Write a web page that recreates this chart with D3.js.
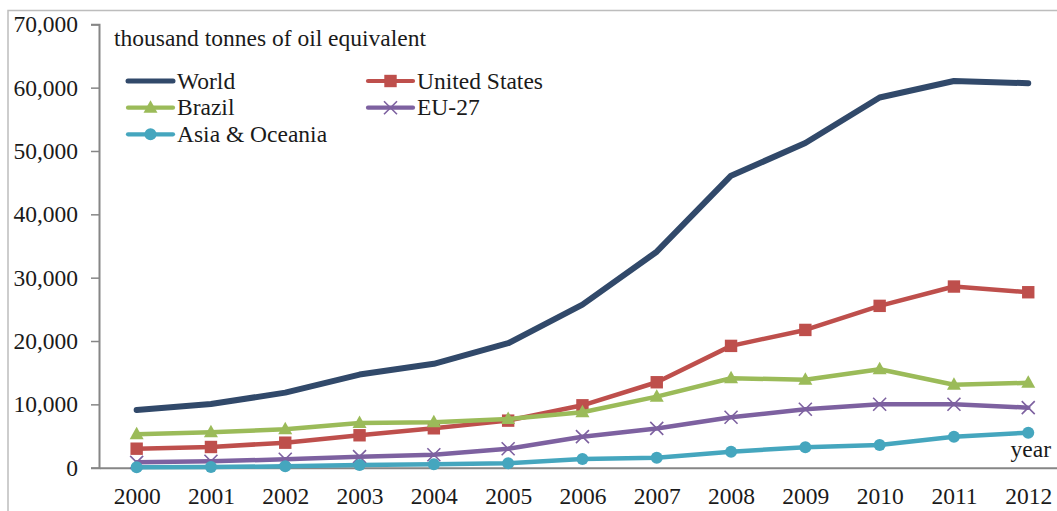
<!DOCTYPE html>
<html>
<head>
<meta charset="utf-8">
<script src="https://cdn.jsdelivr.net/npm/d3@7"></script>
<style>
  html, body { margin: 0; padding: 0; background: #fff; }
  svg { display: block; }
  svg text { font-family: "Liberation Serif", "Times New Roman", serif !important; fill: #1a1a1a; }
</style>
</head>
<body>
<svg id="chart" width="1057" height="511"></svg>
<script>
// Years on the category axis
const years = ["2000","2001","2002","2003","2004","2005","2006","2007","2008","2009","2010","2011","2012"];

// Biofuel production, thousand tonnes of oil equivalent
const world        = [9100, 10050, 11850, 14700, 16400, 19650, 25750, 34100, 46100, 51250, 58450, 61050, 60700];
const unitedStates = [3000, 3270, 3950, 5120, 6220, 7430, 9850, 13490, 19230, 21750, 25550, 28600, 27700];
const brazil       = [5280, 5590, 6060, 7050, 7170, 7690, 8750, 11220, 14120, 13900, 15540, 13100, 13400];
const eu27         = [850, 1010, 1330, 1740, 2050, 3000, 4900, 6200, 7960, 9230, 10020, 10020, 9480];
const asiaOceania  = [80, 100, 220, 430, 530, 690, 1370, 1580, 2530, 3220, 3590, 4900, 5530];

// Y-axis ticks
const yTicks = [0, 10000, 20000, 30000, 40000, 50000, 60000, 70000];

const series = [
  { name: "World",            values: world,        color: "#31496A", width: 6,   marker: "none" },
  { name: "United States",    values: unitedStates, color: "#BE4F4C", width: 4.5, marker: "square" },
  { name: "Brazil",           values: brazil,       color: "#9BBB59", width: 4.5, marker: "triangle" },
  { name: "EU-27",            values: eu27,         color: "#7D61A0", width: 4.5, marker: "cross" },
  { name: "Asia & Oceania",   values: asiaOceania,  color: "#45A6BE", width: 4.5, marker: "circle" }
];

const svg = d3.select("#chart");
const fontSize = 23.5;
const serif = '"Liberation Serif", "Times New Roman", serif';

// Outer chart frame
svg.append("rect")
  .attr("x", 8).attr("y", 10.5)
  .attr("width", 1100).attr("height", 600)
  .attr("fill", "none").attr("stroke", "#BDBDBD").attr("stroke-width", 1.5);

const x0 = 99.5, bandW = 74.3;
const x = d3.scalePoint().domain(years).range([x0, x0 + bandW * years.length]).padding(0.5);
const y = d3.scaleLinear().domain([0, 70000]).range([467.7, 24.3]);

// Y axis
const yAxis = d3.axisLeft(y).tickValues(yTicks).tickSize(8).tickPadding(13)
  .tickFormat(d3.format(","));
const gy = svg.append("g").attr("transform", `translate(${x0 - 0.5},0)`).call(yAxis)
  .attr("font-family", null);
gy.select(".domain").attr("stroke", "#868686").attr("stroke-width", 2);
gy.selectAll(".tick line").attr("stroke", "#868686").attr("stroke-width", 1.5);
gy.selectAll(".tick text").style("font-size", fontSize + "px").style("font-family", serif).attr("fill", "#1a1a1a");

// X axis (no tick marks)
const xAxis = d3.axisBottom(x).tickSize(0).tickPadding(20);
const gx = svg.append("g").attr("transform", `translate(0,${y(0)})`).call(xAxis)
  .attr("font-family", null);
gx.select(".domain").attr("stroke", "#868686").attr("stroke-width", 2);
gx.selectAll(".tick text").style("font-size", fontSize + "px").style("font-family", serif).attr("fill", "#1a1a1a");

// Unit label and axis title
svg.append("text").attr("x", 114).attr("y", 46).style("font-size", fontSize + "px")
  .text("thousand tonnes of oil equivalent");
svg.append("text").attr("x", 1051).attr("y", 457).attr("text-anchor", "end").style("font-size", fontSize + "px")
  .text("year");

function drawMarker(g, kind, cx, cy, color) {
  if (kind === "square") {
    g.append("rect").attr("x", cx - 6.2).attr("y", cy - 6.2).attr("width", 12.4).attr("height", 12.4)
      .attr("fill", color);
  } else if (kind === "triangle") {
    g.append("path").attr("d", `M${cx},${cy - 7.5}L${cx + 7},${cy + 5}L${cx - 7},${cy + 5}Z`)
      .attr("fill", color);
  } else if (kind === "circle") {
    g.append("circle").attr("cx", cx).attr("cy", cy).attr("r", 6).attr("fill", color);
  } else if (kind === "cross") {
    g.append("path").attr("d", `M${cx - 6.5},${cy - 6.5}L${cx + 6.5},${cy + 6.5}M${cx - 6.5},${cy + 6.5}L${cx + 6.5},${cy - 6.5}`)
      .attr("stroke", color).attr("stroke-width", 1.6).attr("fill", "none");
  }
}

const line = d3.line().x((d, i) => x(years[i])).y(d => y(d));

series.forEach(s => {
  const g = svg.append("g");
  g.append("path").datum(s.values).attr("d", line)
    .attr("fill", "none").attr("stroke", s.color).attr("stroke-width", s.width)
    .attr("stroke-linejoin", "round").attr("stroke-linecap", "round");
  s.values.forEach((v, i) => drawMarker(g, s.marker, x(years[i]), y(v), s.color));
});

// Legend: two columns
const legendPos = [
  { lx: 128, ly: 81 },  { lx: 368, ly: 81 },
  { lx: 128, ly: 107.7 }, { lx: 368, ly: 107.7 },
  { lx: 128, ly: 134.3 }
];
series.forEach((s, i) => {
  const p = legendPos[i];
  const g = svg.append("g");
  g.append("line").attr("x1", p.lx).attr("x2", p.lx + 45).attr("y1", p.ly).attr("y2", p.ly)
    .attr("stroke", s.color).attr("stroke-width", s.marker === "none" ? 5 : 4.2).attr("stroke-linecap", "round");
  drawMarker(g, s.marker, p.lx + 22.5, p.ly, s.color);
  g.append("text").attr("x", p.lx + 49).attr("y", p.ly + 7.5).style("font-size", fontSize + "px").text(s.name);
});
</script>
</body>
</html>
